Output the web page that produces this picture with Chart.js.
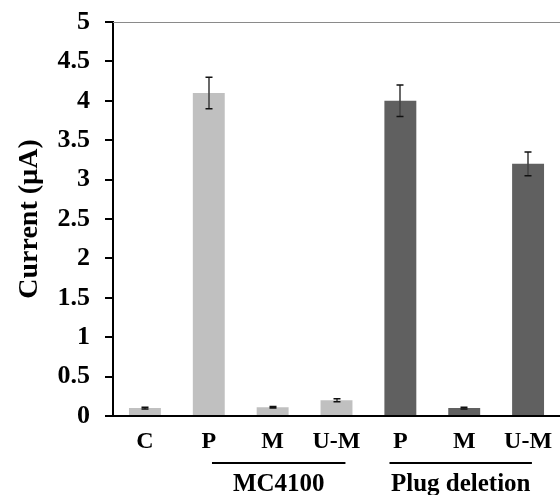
<!DOCTYPE html>
<html><head><meta charset="utf-8">
<script src="https://cdn.jsdelivr.net/npm/chart.js@4.4.1/dist/chart.umd.min.js"></script>
<style>html,body{margin:0;padding:0;background:#fff}#wrap{width:560px;height:495px}</style>
</head><body><div id="wrap"><canvas id="c" width="560" height="495"></canvas></div>
<script>
const categories = ['C','P','M','U-M','P','M','U-M'];
const values = [0.1, 4.1, 0.11, 0.2, 4.0, 0.1, 3.2];
const errors = [0.01, 0.2, 0.01, 0.02, 0.2, 0.01, 0.15];
const strain = [0, 0, 0, 0, 1, 1, 1];
const strainColors = ['#c0c0c0', '#606060'];
const groupLabels = ['MC4100', 'Plug deletion'];
const groupFirst = [1, 4];
const groupLast = [3, 6];
const yTicks = [0,0.5,1,1.5,2,2.5,3,3.5,4,4.5,5];

const FONT = "'Liberation Serif', 'Times New Roman', serif";

const extras = {
  id: 'extras',
  afterDatasetsDraw(chart) {
    const ctx = chart.ctx, x = chart.scales.x, y = chart.scales.y, ca = chart.chartArea;
    const meta = chart.getDatasetMeta(0);
    ctx.save();
    // top border line
    const ty = Math.round(y.getPixelForValue(5)) + 0.5;
    ctx.strokeStyle = '#8a8a8a'; ctx.lineWidth = 1;
    ctx.beginPath(); ctx.moveTo(ca.left, ty); ctx.lineTo(ca.right, ty); ctx.stroke();
    // error bars
    values.forEach((v, i) => {
      const px = Math.round(meta.data[i].x);
      const top = y.getPixelForValue(v + errors[i]);
      const bot = y.getPixelForValue(v - errors[i]);
      ctx.strokeStyle = '#444'; ctx.lineWidth = 1.6;
      ctx.beginPath(); ctx.moveTo(px, top); ctx.lineTo(px, bot); ctx.stroke();
      ctx.strokeStyle = '#111'; ctx.lineWidth = 1.5;
      ctx.beginPath();
      ctx.moveTo(px - 3.5, top); ctx.lineTo(px + 3.5, top);
      ctx.moveTo(px - 3.5, bot); ctx.lineTo(px + 3.5, bot);
      ctx.stroke();
    });
    // group underlines and labels
    const spanL = [0.05, -0.17];
    const spanR = [0.14, 0.06];
    ctx.fillStyle = '#000'; ctx.strokeStyle = '#000'; ctx.lineWidth = 2;
    ctx.font = 'bold 25px ' + FONT;
    ctx.textAlign = 'center'; ctx.textBaseline = 'alphabetic';
    groupLabels.forEach((g, k) => {
      const l = x.getPixelForValue(groupFirst[k] + spanL[k]);
      const r = x.getPixelForValue(groupLast[k] + spanR[k]);
      ctx.beginPath(); ctx.moveTo(l, 463); ctx.lineTo(r, 463); ctx.stroke();
      ctx.fillText(g, (l + r) / 2, 491);
    });
    ctx.restore();
  }
};

new Chart(document.getElementById('c'), {
  type: 'bar',
  data: {
    labels: categories,
    datasets: [{
      data: values,
      backgroundColor: strain.map(s => strainColors[s]),
      borderWidth: 0,
      barPercentage: 0.5,
      categoryPercentage: 1.0
    }]
  },
  options: {
    responsive: false,
    animation: false,
    devicePixelRatio: 1,
    layout: { padding: { top: 22, right: 0, left: 0, bottom: 0 } },
    plugins: { legend: { display: false }, tooltip: { enabled: false } },
    scales: {
      x: {
        grid: { display: false, drawTicks: false },
        border: { display: true, color: '#000', width: 2 },
        ticks: { color: '#000', font: { family: FONT, size: 24, weight: 'bold' }, padding: 11, maxRotation: 0, autoSkip: false },
        afterFit(s) { s.height = 79; s.paddingLeft = 0; s.paddingRight = 0; }
      },
      y: {
        min: 0, max: 5,
        afterBuildTicks(s) { s.ticks = yTicks.map(v => ({ value: v })); },
        grid: { display: true, drawOnChartArea: false, drawTicks: true, tickLength: 8, color: '#000', lineWidth: 2 },
        border: { display: true, color: '#000', width: 2 },
        ticks: { color: '#000', font: { family: FONT, size: 26, weight: 'bold' }, padding: 15, callback: v => String(v) },
        title: { display: true, text: 'Current (µA)', color: '#000', font: { family: FONT, size: 28, weight: 'bold' }, padding: { top: 13, bottom: 0 } },
        afterFit(s) { s.width = 113; s.paddingTop = 0; s.paddingBottom = 0; }
      }
    }
  },
  plugins: [extras]
});
</script>
</body></html>
